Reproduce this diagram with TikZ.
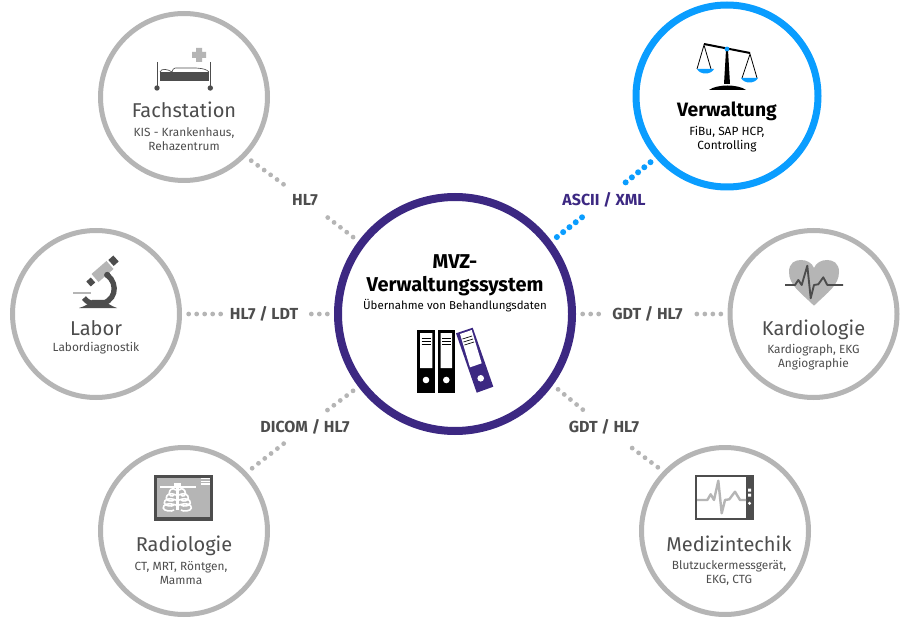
\documentclass[tikz,border=0pt]{standalone}
\usepackage{fontspec}
\setmainfont{Fira Sans}
\usepackage{xcolor}
\usetikzlibrary{positioning}
\definecolor{ringgray}{HTML}{B5B5B5}
\definecolor{darkgray}{HTML}{4D4D4D}
\definecolor{hubviolet}{HTML}{3C2882}
\definecolor{verwblue}{HTML}{0A9DFF}
\begin{document}
\begin{tikzpicture}[x=0.75pt, y=-0.75pt,
  main/.style = {draw=ringgray, circle, line width=3.75pt, minimum size=125.25pt, inner sep=0pt, fill=white},
  title/.style = {text=darkgray, anchor=base, font=\fontsize{15}{16}\selectfont},
  sub/.style = {text=darkgray, font=\fontsize{8.9}{10.9}\selectfont, align=center},
  lbl/.style = {text=darkgray, font=\fontsize{12}{13}\selectfont\bfseries, inner xsep=3pt, inner ysep=0pt, minimum height=22pt},
  dots/.style = {ringgray, line width=3.6pt, line cap=round, dash pattern=on 0pt off 6pt, shorten >=2pt, shorten <=5pt}]
\useasboundingbox (0,0) rectangle (910,627);
\node[main] (fach) at (184,97) {};
\node[main] (labor) at (96,314) {};
\node[main] (kardio) at (813.5,314) {};
\node[main] (radio) at (184,531) {};
\node[main] (medtech) at (725,531) {};
\node[main, draw=verwblue, line width=5.25pt, minimum size=136.5pt] (verw) at (727,96) {};
\node[main, draw=hubviolet, line width=6pt, minimum size=175.5pt] (hub) at (455,314) {};
\node[lbl] (fachlbl) at (305,200) {HL7};
\node[lbl] (laborlbl) at (264,314) {HL7 / LDT};
\node[lbl] (radiolbl) at (305,427) {DICOM / HL7};
\node[lbl] (kardiolbl) at (647.5,314) {GDT / HL7};
\node[lbl] (medlbl) at (604,427) {GDT / HL7};
\node[lbl, text=hubviolet] (verwlbl) at (604,200) {ASCII / XML};
\path (fach.-44) edge [dots] (fachlbl);
\path (hub.143) edge [dots] (fachlbl);
\path (labor) edge [dots] (laborlbl);
\path (hub) edge [dots] (laborlbl);
\path (radio.43) edge [dots] (radiolbl);
\path (hub.217) edge [dots] (radiolbl);
\path (kardio) edge [dots] (kardiolbl);
\path (hub) edge [dots] (kardiolbl);
\path (medtech.136) edge [dots] (medlbl);
\path (hub.-36) edge [dots] (medlbl);
\path (verw.-139) edge [dots, verwblue, line width=4.5pt] (verwlbl);
\path (hub.37) edge [dots, verwblue, line width=4.5pt] (verwlbl);
\node[title] (fachtitle) at (184,118) {Fachstation};
\node[sub] (fachsub) at (184,139) {KIS - Krankenhaus,\\Rehazentrum};
\node[title, text=black, font=\fontsize{14.5}{16}\selectfont\bfseries] (verwtitle) at (727,117) {Verwaltung};
\node[sub, text=black] (verwsub) at (727,139) {FiBu, SAP HCP,\\Controlling};
\node[title] (labortitle) at (96,335) {Labor};
\node[sub] (laborsub) at (96,348) {Labordiagnostik};
\node[title] (kardiotitle) at (813.5,335) {Kardiologie};
\node[sub] (kardiosub) at (813.5,357) {Kardiograph, EKG\\Angiographie};
\node[title] (radiotitle) at (184,551) {Radiologie};
\node[sub] (radiosub) at (181,573) {CT, MRT, Röntgen,\\Mamma};
\node[title] (medtitle) at (729,551) {Medizintechik};
\node[sub] (medsub) at (729,573) {Blutzuckermessgerät,\\EKG, CTG};
\node[font=\fontsize{15}{17}\selectfont\bfseries, align=center] (hubtitle) at (455,275) {MVZ-\\Verwaltungssystem};
\node[font=\fontsize{8.6}{10}\selectfont] (hubsub) at (455,306) {Übernahme von Behandlungsdaten};
% bed
\draw[darkgray, line width=1pt] (157.7,62) -- (157.7,88) (210.3,62) -- (210.3,88);
\fill[darkgray] (160,72) rectangle (209,81);
\fill[darkgray] (157,88) circle (2.7) (210.3,88) circle (2.7);
\draw[darkgray, line width=.5pt] (160,72) .. controls (161,68) and (168,69) .. (172,72) .. controls (173,67) and (176,68) .. (180,68) .. controls (192,68) and (205,67) .. (209,72);
\fill[ringgray] (196,48) rectangle (202,62) (192,52) rectangle (206,58);
% scales
\draw[line width=1.5pt] (704,44) -- (750,53);
\fill (726,50) -- (728,50) -- (730,84) -- (724,84) -- cycle;
\fill (709,90) .. controls (717,84) and (738,84) .. (746,90) -- cycle;
\fill[verwblue] (727,49) circle (2.4);
\draw[line width=.6pt] (697,69) -- (704,45) -- (711,69) (742,78) -- (750,54) -- (757,78);
\fill[verwblue] (697,69) .. controls (700,75) and (711,75) .. (714,69) -- cycle;
\fill[verwblue] (741,78) .. controls (744,84) and (755,84) .. (758,78) -- cycle;
% binders
\fill (417,330) rectangle (435,393);
\fill (438,330) rectangle (455,393);
\fill[white] (420,333) rectangle (432.3,368) (440.7,333) rectangle (452,368);
\fill[white] (426,380) circle (3.3) (446.3,380) circle (3.3);
\foreach \ly in {338,341,344} \draw[line width=.5pt] (421.5,\ly) -- (431,\ly) (442,\ly) -- (451,\ly);
\fill[hubviolet] (456,333.3) -- (472.7,327.7) -- (493.3,386.7) -- (476.7,392.7) -- cycle;
\fill[white] (460,334) -- (471.7,330) -- (481.7,363.3) -- (470,367.3) -- cycle;
\fill[white] (480.7,378.3) circle (3.3);
\draw[line width=.5pt] (462.5,339) -- (472,336) (463.5,342) -- (473,339) (464.5,345) -- (474,342);
% microscope
\draw[ringgray, line width=8pt] (95,278) -- (110,265);
\draw[darkgray, line width=5pt] (88.5,284) -- (93,280);
\draw[darkgray, line width=6pt] (111,263) -- (116,258.5);
\draw[darkgray, line width=4pt] (107.3,275) .. controls (119,284) and (116,304) .. (97,304) .. controls (91,304) and (87,302) .. (84,298);
\fill[darkgray] (79,308) .. controls (86,306) and (90,303) .. (92,300) -- (104,300) .. controls (107,303) and (111,306) .. (117,308) -- cycle;
\fill[darkgray] (107.3,275) circle (3.2);
\draw[ringgray, line width=1.5pt] (73,293.5) -- (91,293.5);
% heart
\fill[ringgray] (814,305.7) .. controls (800,292) and (789,285) .. (789,272) .. controls (789,263) and (795,260) .. (801,260) .. controls (807,260) and (812,263) .. (814,268) .. controls (816,263) and (821,260) .. (827,260) .. controls (833,260) and (839,263) .. (839,272) .. controls (839,285) and (828,292) .. (814,305.7) -- cycle;
\draw[darkgray, line width=1.4pt, line join=round] (785,285) -- (795,285) -- (798.3,280) -- (801.7,285) -- (807.3,265.7) -- (810.7,298.3) -- (814,285) -- (818.3,284.3) -- (823.3,277.3) -- (827.3,285) -- (843,285);
% x-ray
\draw[darkgray, line width=2.5pt, fill=ringgray] (155.5,476.5) rectangle (211.5,519);
\foreach \ly in {478.7,481.3,484} \draw[white, line width=.8pt] (200.7,\ly) -- (210,\ly);
\draw[white, line width=1.8pt] (160,487) -- (196,487);
\fill[white] (174,483) rectangle (181,488);
\draw[white, line width=2pt] (177.3,487) -- (177.3,510);
\foreach \ry/\rw in {490/8,495/11,500/13,505/14} {
  \draw[white, line width=1.2pt] (176,\ry) .. controls (177.3-\rw+3,\ry-3) and (177.3-\rw,\ry) .. (177.3-\rw,\ry+3) .. controls (177.3-\rw,\ry+6) and (172,\ry+7) .. (174,\ry+5);
  \draw[white, line width=1.2pt] (179,\ry) .. controls (177.3+\rw-3,\ry-3) and (177.3+\rw,\ry) .. (177.3+\rw,\ry+3) .. controls (177.3+\rw,\ry+6) and (183,\ry+7) .. (181,\ry+5);
}
% device
\draw[darkgray, line width=2pt, fill=white] (696,476) rectangle (753,519);
\fill[darkgray] (746,475) rectangle (754,520);
\fill[white] (748,488.5) rectangle (751,491.5) (748,493.5) rectangle (751,496.5);
\fill[white] (749.5,503.3) circle (1.7);
\draw[ringgray, line width=1.8pt, line join=round] (697,500) -- (707.3,500) -- (710.7,494.3) -- (714,500) -- (718.3,480.7) -- (721.7,513.3) -- (725,500) -- (729.3,499.3) -- (735,491.7) -- (740,500) -- (746,500);
\end{tikzpicture}
\end{document}
